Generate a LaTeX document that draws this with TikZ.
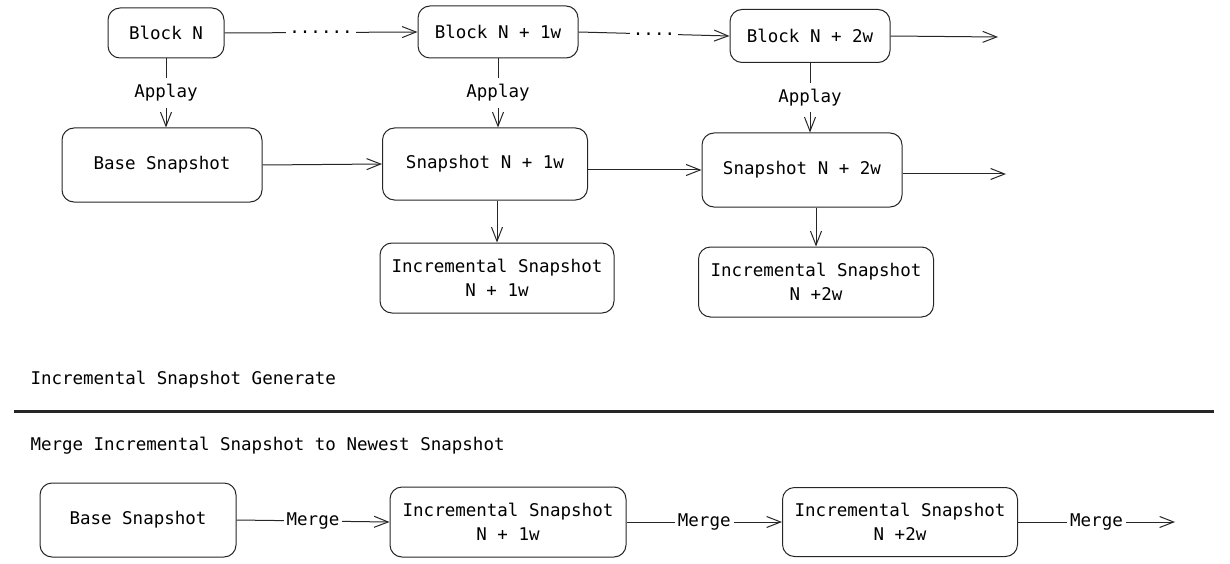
\documentclass[tikz,border=0pt]{standalone}
\usepackage{fontspec}
\setmonofont{DejaVu Sans Mono}
\usetikzlibrary{arrows.meta, positioning}
\tikzset{
  box/.style={draw, rounded corners=12pt, align=center, inner sep=0pt},
  lbl/.style={fill=white, inner sep=3pt},
  arr/.style={-{Straight Barb[length=14pt,width=11pt]}},
}

\begin{document}
\begin{tikzpicture}[x=1pt, y=-1pt, line width=1pt, draw=black!85,
  font=\ttfamily\fontsize{17.5}{24}\selectfont]
\useasboundingbox (0,0) rectangle (1230,564);
% blocks
\node[box, minimum width=116pt, minimum height=50pt] (bN) at (166,33) {Block N};
\node[box, minimum width=160pt, minimum height=52pt] (bN1) at (498,32) {Block N + 1w};
\node[box, minimum width=160pt, minimum height=53pt] (bN2) at (810,36) {Block N + 2w};
\coordinate (bOut) at (998,37);
\draw[arr] (bN.east) -- node[lbl]{......} (bN1.west);
\draw[arr] (bN1.east) -- node[lbl]{....} (bN2.west);
\draw[arr] (bN2.east) -- (bOut);
% snapshots
\node[box, minimum width=200pt, minimum height=74pt] (base) at (162,165) {Base Snapshot};
\node[box, minimum width=205pt, minimum height=72pt] (snap1) at (485,164) {Snapshot N + 1w};
\node[box, minimum width=200pt, minimum height=74pt] (snap2) at (802,170) {Snapshot N + 2w};
\coordinate (snapOut) at (1006,174);
\draw[arr] (bN.south) -- node[lbl, inner sep=6pt]{Applay} (bN.south |- base.north);
\draw[arr] (bN1.south) -- node[lbl, inner sep=6pt]{Applay} (bN1.south |- snap1.north);
\draw[arr] (bN2.south) -- node[lbl, inner sep=6pt]{Applay} (bN2.south |- snap2.north);
\draw[arr] (base.east) -- (snap1.west);
\draw[arr] (snap1.east |- snap2.west) -- (snap2.west);
\draw[arr] (snap2.east |- snapOut) -- (snapOut);
% incremental snapshots
\node[box, minimum width=234pt, minimum height=70pt] (inc1) at (497,278) {Incremental Snapshot\\N + 1w};
\node[box, minimum width=235pt, minimum height=70pt] (inc2) at (816,282) {Incremental Snapshot\\N +2w};
\draw[arr] (inc1.north |- snap1.south) -- (inc1.north);
\draw[arr] (inc2.north |- snap2.south) -- (inc2.north);
% titles
\node[anchor=west, inner sep=0pt] (genTitle) at (30,380) {Incremental Snapshot Generate};
\draw[line width=3pt] (14,411) -- (1214,411);
\node[anchor=west, inner sep=0pt] (mergeTitle) at (30,446) {Merge Incremental Snapshot to Newest Snapshot};
% merge row
\node[box, minimum width=196pt, minimum height=74pt] (base2) at (138,520) {Base Snapshot};
\node[box, minimum width=236pt, minimum height=70pt] (inc1b) at (508,522) {Incremental Snapshot\\N + 1w};
\node[box, minimum width=235pt, minimum height=69pt] (inc2b) at (900,522) {Incremental Snapshot\\N +2w};
\coordinate (mergeOut) at (1175,522);
\draw[arr] (base2.east) -- node[lbl]{Merge} (inc1b.west);
\draw[arr] (inc1b.east) -- node[lbl]{Merge} (inc2b.west);
\draw[arr] (inc2b.east) -- node[lbl]{Merge} (mergeOut);
\end{tikzpicture}
\end{document}
